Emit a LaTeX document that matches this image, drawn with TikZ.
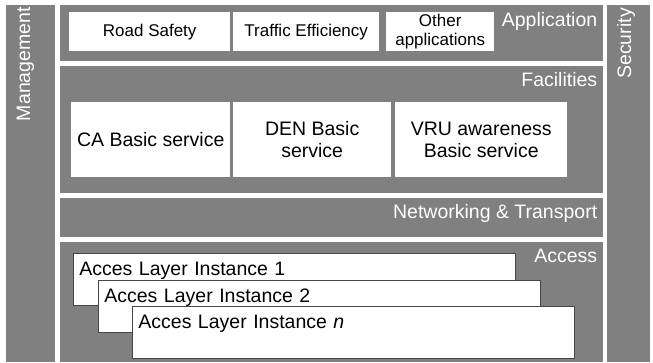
\documentclass[tikz,border=0pt]{standalone}
\usepackage{fontspec}
\setmainfont{Liberation Sans}
\usetikzlibrary{arrows.meta}

\definecolor{laygray}{RGB}{128,128,128}
\definecolor{boxline}{RGB}{70,70,70}

\tikzset{
  band/.style={fill=laygray, draw=none, inner sep=0pt, anchor=north west},
  bandlbl/.style={text=white, inner sep=0pt, anchor=base east,
    font=\fontsize{19.5}{22}\selectfont},
  appbox/.style={fill=white, draw=none, inner sep=0pt, anchor=north west,
    align=center, minimum height=39pt, font=\fontsize{17}{19}\selectfont},
  facbox/.style={fill=white, draw=none, inner sep=0pt, anchor=north west,
    align=center, minimum height=75pt, font=\fontsize{19.5}{22}\selectfont},
  accbox/.style={fill=white, draw=boxline, line width=0.8pt, anchor=north west,
    inner xsep=6pt, inner ysep=0pt, align=left, text width=430pt,
    text height=22pt, text depth=30pt, font=\fontsize{19.5}{22}\selectfont}
}

\begin{document}
\begin{tikzpicture}[x=1pt, y=-1pt]

  \useasboundingbox (0,0) rectangle (653,363);

  %% side bars
  \node[band, minimum width=49pt, minimum height=357pt] (mgmt) at (6,5) {};
  \node[band, minimum width=43pt, minimum height=357pt] (sec) at (607,5) {};
  \node[bandlbl, rotate=90] (mgmtlbl) at (30,7) {Management};
  \node[bandlbl, rotate=90] (seclbl) at (631,8) {Security};

  %% layers
  \node[band, minimum width=543pt, minimum height=56pt] (app) at (60,5) {};
  \node[band, minimum width=543pt, minimum height=127pt] (fac) at (60,66) {};
  \node[band, minimum width=543pt, minimum height=39pt] (net) at (60,198) {};
  \node[band, minimum width=543pt, minimum height=120pt] (acc) at (60,242) {};

  \node[bandlbl] (applbl) at ([xshift=-6pt, yshift=-22pt]app.north east) {Application};
  \node[bandlbl] (faclbl) at ([xshift=-6pt, yshift=-21pt]fac.north east) {Facilities};
  \node[bandlbl] (netlbl) at ([xshift=-6pt, yshift=-21pt]net.north east) {Networking \& Transport};
  \node[bandlbl] (acclbl) at ([xshift=-6pt, yshift=-21pt]acc.north east) {Access};

  %% application
  \node[appbox, minimum width=161pt] (safety) at (69,12) {Road Safety};
  \node[appbox, minimum width=146pt] (traffic) at (233,12) {Traffic Efficiency};
  \node[appbox, minimum width=108pt] (otherapp) at (386,12) {Other\\applications};

  %% facilities
  \node[facbox, minimum width=159pt] (ca) at (71,102) {CA Basic service};
  \node[facbox, minimum width=158pt] (den) at (233,102) {DEN Basic\\service};
  \node[facbox, minimum width=172pt] (vru) at (395,102) {VRU awareness\\Basic service};

  %% access layer instances
  \node[accbox] (inst1) at (73,253) {Acces Layer Instance 1};
  \node[accbox] (inst2) at (98,280) {Acces Layer Instance 2};
  \node[accbox] (instn) at (132,306) {Acces Layer Instance \textit{n}};

\end{tikzpicture}
\end{document}
